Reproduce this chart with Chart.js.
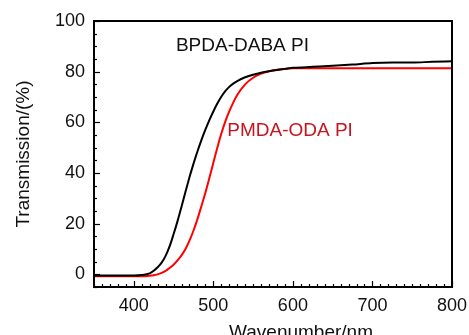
<!DOCTYPE html>
<html>
<head>
<meta charset="utf-8">
<script src="https://cdn.jsdelivr.net/npm/chart.js@4"></script>
<style>
  body { margin: 0; background: #fff; }
  #wrap { width: 469px; height: 335px; }
</style>
</head>
<body>
<div id="wrap"><canvas id="chart" width="469" height="335"></canvas></div>
<script>
// wavelength (nm)
const wavelengths = [350, 400, 410, 420, 425, 430, 435, 440, 445, 450, 455, 460, 465, 470, 475, 480, 485, 490, 495, 500,
    505, 510, 515, 520, 525, 530, 540, 550, 560, 570, 580, 590, 600, 625, 650, 675, 700, 725, 750, 775, 800];

// transmission (%)
const bpdaDaba = [-0.5, -0.5, -0.3, 0.4, 1.4, 2.8, 4.6, 7.3, 11, 15.8, 21, 26.7, 32.6, 38.3, 43.6, 48.5, 53, 57.1, 60.9, 64.3,
    67.4, 70.1, 72.3, 74, 75.3, 76.3, 77.8, 78.8, 79.6, 80.2, 80.7, 81.1, 81.5, 81.9, 82.3, 82.8, 83.4, 83.6, 83.6, 83.9, 84.1];
const pmdaOda = [-0.8, -0.8, -0.8, -0.6, -0.4, 0, 0.6, 1.4, 2.5, 3.8, 5.5, 7.5, 10, 13.3, 17.2, 21.8, 26.9, 32.2, 38, 44,
    50, 55.5, 60.3, 64.3, 67.8, 70.8, 75, 77.6, 79.2, 80.2, 80.8, 81.1, 81.3, 81.3, 81.3, 81.3, 81.3, 81.3, 81.3, 81.3, 81.3];

const seriesNames = ["BPDA-DABA PI", "PMDA-ODA PI"];
const xTicks = [400, 500, 600, 700, 800];
const yTicks = [0, 20, 40, 60, 80, 100];

const FONT = "'Liberation Sans', Arial, sans-serif";

function toPoints(ys) {
    return wavelengths.map((x, i) => ({ x: x, y: ys[i] }));
}

// frame, inward ticks, labels
const decorations = {
    id: "decorations",
    afterDraw(chart) {
        const { ctx, chartArea: a, scales } = chart;
        const xs = scales.x, ys = scales.y;
        ctx.save();
        ctx.strokeStyle = "#000";
        ctx.lineWidth = 1.2;
        for (let v = 350; v <= 800; v += 10) {
            const px = Math.round(xs.getPixelForValue(v)) + 0.5;
            const len = v % 100 === 0 ? 6 : 3;
            ctx.beginPath();
            ctx.moveTo(px, a.bottom);
            ctx.lineTo(px, a.bottom - len);
            ctx.stroke();
        }
        for (let v = -5; v <= 100; v += 5) {
            const py = Math.round(ys.getPixelForValue(v)) + 0.5;
            const len = v % 20 === 0 ? 6 : 3;
            ctx.beginPath();
            ctx.moveTo(a.left, py);
            ctx.lineTo(a.left + len, py);
            ctx.stroke();
        }
        ctx.lineWidth = 2;
        ctx.strokeRect(a.left, a.top, a.right - a.left, a.bottom - a.top);

        ctx.font = "19px " + FONT;
        ctx.textBaseline = "alphabetic";
        ctx.textAlign = "left";
        ctx.fillStyle = "#111";
        ctx.fillText(seriesNames[0], xs.getPixelForValue(453), ys.getPixelForValue(88));
        ctx.fillStyle = "#c8141e";
        ctx.fillText(seriesNames[1], xs.getPixelForValue(517.5), ys.getPixelForValue(54.6));

        ctx.fillStyle = "#111";
        ctx.textAlign = "center";
        ctx.fillText("Wavenumber/nm", 301, 338);
        ctx.restore();
    }
};

new Chart(document.getElementById("chart"), {
    type: "line",
    data: {
        datasets: [
            {
                label: seriesNames[0],
                data: toPoints(bpdaDaba),
                borderColor: "#000",
                borderWidth: 2,
                pointRadius: 0,
                cubicInterpolationMode: "monotone"
            },
            {
                label: seriesNames[1],
                data: toPoints(pmdaOda),
                borderColor: "#ff0000",
                borderWidth: 2,
                pointRadius: 0,
                cubicInterpolationMode: "monotone"
            }
        ]
    },
    options: {
        responsive: false,
        animation: false,
        layout: { padding: { top: 21, right: 17, left: 0, bottom: 0 } },
        plugins: {
            legend: { display: false },
            tooltip: { enabled: false }
        },
        scales: {
            x: {
                type: "linear",
                min: 350,
                max: 800,
                afterBuildTicks: s => { s.ticks = xTicks.map(v => ({ value: v })); },
                afterFit: s => { s.height = 48; s.paddingLeft = 0; s.paddingRight = 0; },
                grid: { display: false, drawTicks: false },
                border: { display: false },
                ticks: { color: "#111", font: { family: FONT, size: 18 }, padding: 8, maxRotation: 0 }
            },
            y: {
                min: -5,
                max: 100,
                afterBuildTicks: s => { s.ticks = yTicks.map(v => ({ value: v })); },
                afterFit: s => { s.width = 94; },
                grid: { display: false, drawTicks: false },
                border: { display: false },
                ticks: { color: "#111", font: { family: FONT, size: 18 }, padding: 9 },
                title: {
                    display: true,
                    text: "Transmission/(%)",
                    color: "#111",
                    font: { family: FONT, size: 19 },
                    padding: { top: 12, bottom: 0 }
                }
            }
        }
    },
    plugins: [decorations]
});
</script>
</body>
</html>
